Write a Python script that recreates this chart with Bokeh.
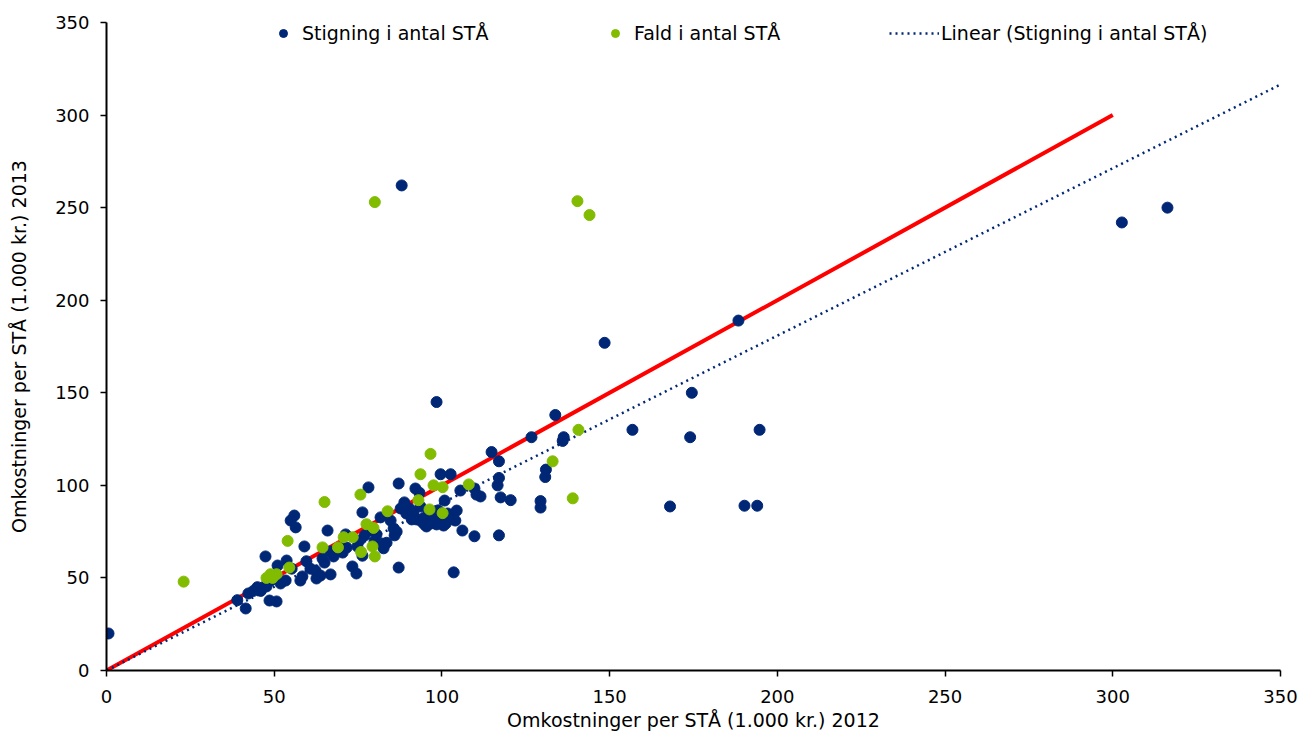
from bokeh.plotting import figure
from bokeh.models import Legend, LegendItem, Range1d, FixedTicker
from bokeh.embed import file_html
from bokeh.resources import INLINE

# Series: "Stigning i antal STÅ" (increase)
rise_x = [0.6, 88, 302.7, 316.3, 188.4, 148.5, 174.5, 156.8, 194.7, 174, 168, 190.2, 194,
          133.8, 126.7, 136.3, 136, 131, 130.8, 129.4, 129.4, 98.4, 114.8, 117, 103.5, 117,
          109.7, 120.5, 117, 116.6, 117.5,
          39, 41.5, 42.3, 43.8, 45, 46, 46.8, 47.4, 47.7, 49, 48.6, 50.7, 51, 51.9, 53.4, 53.7,
          54.9, 56, 56.4, 55.2, 57.8, 58.4, 59, 59.6, 60.8, 62.3, 62.6, 63.8, 64.4, 65, 65.9,
          66.8, 66.8, 67.7, 69.5, 70.4, 71.6, 73.3, 74.5, 74.8, 75.4, 76.3, 76.3, 77, 78.1, 78.4,
          79.9, 80.5, 81.7, 82, 82.6, 83.5, 84.7, 85.6, 85.9, 86.5, 87.1, 87.1, 87.7, 88.8, 89.4,
          90.3, 91, 91.5, 92.1, 92.4, 93.3, 93.6, 93.9, 94.8, 94.8, 95.4, 96, 96.6, 97.2, 97.8,
          98.4, 98.4, 99.6, 99.9, 100.5, 100.8, 101.7, 102.6, 103.2, 104, 104.4, 105.5, 106.1,
          109.7, 110.3, 111.5, 71.3, 98.9, 101.2, 95.8]
rise_y = [20, 262, 242, 250, 189, 177, 150, 130, 130, 126, 88.6, 89, 89,
          138, 126, 126, 124, 108.5, 104.5, 91.5, 88, 145, 118, 113, 53, 73,
          72.5, 92, 104, 100, 93.5,
          38, 33.5, 41.6, 43, 45, 43, 45, 61.6, 45.4, 48.6, 37.8, 37.3, 56.7, 47, 48.6, 59.4,
          81, 83.7, 77.3, 55, 48.6, 50.8, 67, 59, 55, 54, 49.7, 51.3, 60.5, 58.3, 75.6,
          51.9, 64.3, 61.6, 66, 63.7, 66.4, 56.2, 52.4, 67, 70.2, 85.4, 62, 73, 98.9, 75.6,
          69.7, 73.5, 82.7, 68.6, 66, 69, 81, 76.7, 73, 75, 101, 55.6, 87.5, 90.8, 84.8,
          87.5, 81.6, 85.4, 98.3, 81.6, 96, 88.6, 80.5, 78.9, 82.7, 77.8, 81.6, 79.4, 84.3, 80,
          78.9, 82.7, 106, 81, 78.3, 91.8, 84.8, 106, 83.2, 81, 86.4, 97.2, 75.6,
          98.3, 95, 94, 73.5, 86.5, 79.5, 83.5]

# Series: "Fald i antal STÅ" (decrease)
fall_x = [23, 80, 140.4, 144, 140.7, 133, 139, 96.6, 93.6, 97.5, 108, 100.2, 93, 96.3, 100.2,
          65, 75.7, 83.8, 77.5, 79.6, 70.7, 73.4, 69, 64.4, 79.3, 80, 75.9, 54, 54.5, 47.7,
          48.9, 50.7, 49.5]
fall_y = [48, 253, 253.5, 246, 130, 113, 93, 117, 106, 100, 100.5, 99, 92, 87, 85,
          91, 95, 86, 79, 77, 72, 72, 66.5, 66.5, 67, 61.6, 64, 70, 55.6, 50,
          52, 52, 50]

# Reference line (red) and linear trend of the increase series
ref_x = [0, 300]
ref_y = [0, 300]
trend_x = [0, 350]
trend_y = [0, 316.5]

axis_ticks = [0, 50, 100, 150, 200, 250, 300, 350]

BLUE = "#002776"
GREEN = "#82BC00"
FONT = "DejaVu Sans"

p = figure(width=1299, height=733, output_backend="svg", toolbar_location=None,
           x_range=Range1d(0, 350), y_range=Range1d(0, 350),
           min_border_left=106, min_border_right=19, min_border_top=22, min_border_bottom=63)
p.outline_line_color = None
p.grid.visible = False
p.background_fill_color = "white"

r_ref = p.line(ref_x, ref_y, line_color="#FF0000", line_width=4)
r_trend = p.line(trend_x, trend_y, line_color=BLUE, line_width=2.5, line_dash="2 4")
r_rise = p.scatter(rise_x, rise_y, size=11, fill_color=BLUE, line_color=BLUE)
r_fall = p.scatter(fall_x, fall_y, size=11, fill_color=GREEN, line_color=GREEN)

for ax in (p.xaxis[0], p.yaxis[0]):
    ax.ticker = FixedTicker(ticks=axis_ticks)
    ax.minor_tick_line_color = None
    ax.major_tick_in = 0
    ax.major_tick_out = 6
    ax.axis_line_width = 2
    ax.axis_line_color = "black"
    ax.major_tick_line_color = "black"
    ax.major_tick_line_width = 1.5
    ax.major_label_text_font = FONT
    ax.major_label_text_font_size = "18px"
    ax.major_label_text_color = "black"
    ax.axis_label_text_font = FONT
    ax.axis_label_text_font_size = "19px"
    ax.axis_label_text_font_style = "normal"
    ax.axis_label_text_color = "black"

p.xaxis.axis_label = "Omkostninger per STÅ (1.000 kr.) 2012"
p.yaxis.axis_label = "Omkostninger per STÅ (1.000 kr.) 2013"
p.xaxis.major_label_standoff = 13
p.xaxis.axis_label_standoff = 3
p.yaxis.major_label_standoff = 11
p.yaxis.axis_label_standoff = 22


def make_legend(label, renderer, loc, gw, standoff):
    lg = Legend(items=[LegendItem(label=label, renderers=[renderer])], location=loc,
                orientation="horizontal", glyph_width=gw, glyph_height=20,
                label_standoff=standoff, padding=0, margin=0, spacing=0,
                border_line_color=None, background_fill_alpha=0,
                label_text_font=FONT, label_text_font_size="19px", label_text_color="black")
    return lg


p.add_layout(make_legend("Stigning i antal STÅ", r_rise, (167, 626), 20, 9))
p.add_layout(make_legend("Fald i antal STÅ", r_fall, (499, 626), 20, 9))
p.add_layout(make_legend("Linear (Stigning i antal STÅ)", r_trend, (783, 626), 50, 2))

open("out.html", "w").write(file_html(p, INLINE))
